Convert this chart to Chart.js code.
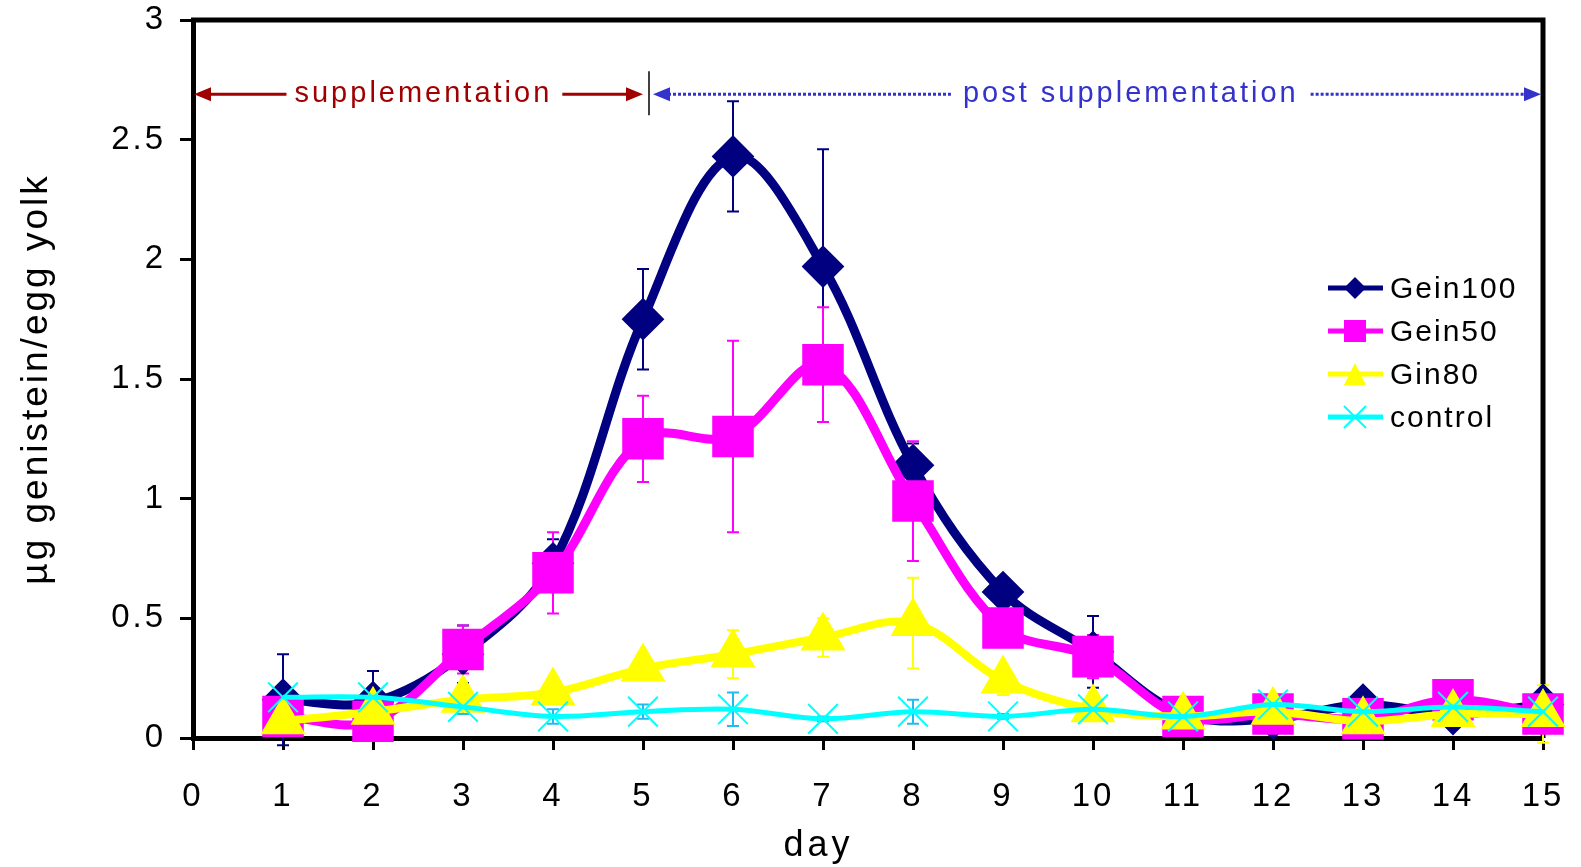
<!DOCTYPE html>
<html>
<head>
<meta charset="utf-8">
<script src="https://cdn.jsdelivr.net/npm/chart.js@4/dist/chart.umd.min.js"></script>
<style>
  html, body { margin: 0; padding: 0; background: #fff; }
</style>
</head>
<body>
<canvas id="yolk" width="1581" height="867"></canvas>
<script>
// data
const days = [1, 2, 3, 4, 5, 6, 7, 8, 9, 10, 11, 12, 13, 14, 15];

const gein100    = [0.16, 0.15, 0.35, 0.73, 1.75, 2.43, 1.97, 1.14, 0.61, 0.36, 0.10, 0.08, 0.14, 0.10, 0.14];
const gein100Err = [0.19, 0.13, 0.12, 0.10, 0.21, 0.23, 0.49, 0.09, 0.04, 0.15, 0.03, 0.03, 0.03, 0.03, 0.04];

const gein50     = [0.09, 0.07, 0.37, 0.69, 1.25, 1.26, 1.56, 0.99, 0.46, 0.34, 0.09, 0.10, 0.08, 0.16, 0.10];
const gein50Err  = [0.04, 0.03, 0.10, 0.17, 0.18, 0.40, 0.24, 0.25, 0.04, 0.09, 0.02, 0.03, 0.02, 0.03, 0.03];

const gin80      = [0.07, 0.11, 0.16, 0.19, 0.29, 0.35, 0.42, 0.48, 0.24, 0.12, 0.09, 0.11, 0.07, 0.10, 0.10];
const gin80Err   = [0.02, 0.02, 0.02, 0.02, 0.02, 0.10, 0.08, 0.19, 0.06, 0.02, 0.02, 0.02, 0.02, 0.02, 0.12];

const control    = [0.17, 0.17, 0.13, 0.09, 0.11, 0.12, 0.08, 0.11, 0.09, 0.12, 0.09, 0.14, 0.11, 0.13, 0.11];
const controlErr = [0.02, 0.02, 0.03, 0.03, 0.03, 0.07, 0.01, 0.05, 0.01, 0.01, 0.01, 0.04, 0.01, 0.01, 0.01];

const xTicks = [0, 1, 2, 3, 4, 5, 6, 7, 8, 9, 10, 11, 12, 13, 14, 15];
const yTicks = [0, 0.5, 1, 1.5, 2, 2.5, 3];

const FONT = "'Liberation Sans', Arial, sans-serif";

function pts(vals) {
  return days.map((d, i) => ({ x: d, y: vals[i] }));
}

// small marker drawer for the legend
function legendMark(ctx, style, x, y, s, color) {
  ctx.fillStyle = color;
  ctx.strokeStyle = color;
  ctx.beginPath();
  if (style === 'rectRot') {
    ctx.moveTo(x, y - s); ctx.lineTo(x + s, y); ctx.lineTo(x, y + s); ctx.lineTo(x - s, y);
    ctx.closePath(); ctx.fill();
  } else if (style === 'rect') {
    ctx.fillRect(x - s, y - s, 2 * s, 2 * s);
  } else if (style === 'triangle') {
    ctx.moveTo(x, y - s); ctx.lineTo(x + s, y + s); ctx.lineTo(x - s, y + s);
    ctx.closePath(); ctx.fill();
  } else {
    ctx.lineWidth = 2;
    ctx.moveTo(x - s, y - s); ctx.lineTo(x + s, y + s);
    ctx.moveTo(x + s, y - s); ctx.lineTo(x - s, y + s);
    ctx.stroke();
  }
}

function arrowHead(ctx, tipX, y, dir, color) {
  ctx.fillStyle = color;
  ctx.beginPath();
  ctx.moveTo(tipX, y);
  ctx.lineTo(tipX - dir * 17, y - 7);
  ctx.lineTo(tipX - dir * 17, y + 7);
  ctx.closePath();
  ctx.fill();
}

const extras = {
  id: 'extras',
  beforeDraw(chart) {
    chart.ctx.letterSpacing = '3px';
  },
  beforeDatasetsDraw(chart) {
    const { ctx, chartArea: a, scales: { x, y } } = chart;
    ctx.save();
    // top & right frame
    ctx.strokeStyle = '#000';
    ctx.lineWidth = 5;
    ctx.beginPath();
    ctx.moveTo(a.left - 2, a.top);
    ctx.lineTo(a.right, a.top);
    ctx.lineTo(a.right, a.bottom);
    ctx.stroke();
    // error bars
    chart.data.datasets.forEach(ds => {
      ctx.strokeStyle = ds.errColor;
      ctx.lineWidth = 2;
      ds.data.forEach((p, j) => {
        const e = ds.errors[j];
        const px = x.getPixelForValue(p.x);
        const t = y.getPixelForValue(p.y + e);
        const b = y.getPixelForValue(p.y - e);
        ctx.beginPath();
        ctx.moveTo(px, t); ctx.lineTo(px, b);
        ctx.moveTo(px - 6, t); ctx.lineTo(px + 6, t);
        ctx.moveTo(px - 6, b); ctx.lineTo(px + 6, b);
        ctx.stroke();
      });
    });
    ctx.restore();
  },
  afterDraw(chart) {
    const { ctx, scales: { x, y } } = chart;
    ctx.save();
    const yA = y.getPixelForValue(2.69);
    const x0 = x.getPixelForValue(0);
    const x5 = x.getPixelForValue(5);
    const x15 = x.getPixelForValue(15);

    ctx.font = '29px ' + FONT;
    ctx.letterSpacing = '3px';
    ctx.textAlign = 'center';
    ctx.textBaseline = 'middle';

    // supplementation
    const red = '#a00000';
    const rc = x.getPixelForValue(2.56);
    const rw = ctx.measureText('supplementation').width;
    ctx.fillStyle = red;
    ctx.fillText('supplementation', rc, yA);
    ctx.strokeStyle = red;
    ctx.lineWidth = 3;
    ctx.beginPath();
    ctx.moveTo(x0 + 10, yA); ctx.lineTo(rc - rw / 2 - 8, yA);
    ctx.moveTo(rc + rw / 2 + 10, yA); ctx.lineTo(x5 - 10, yA);
    ctx.stroke();
    arrowHead(ctx, x0 + 1, yA, -1, red);
    arrowHead(ctx, x5, yA, 1, red);

    // divider
    ctx.strokeStyle = '#000';
    ctx.lineWidth = 1.5;
    ctx.beginPath();
    ctx.moveTo(x5 + 6, yA - 23); ctx.lineTo(x5 + 6, yA + 21);
    ctx.stroke();

    // post supplementation
    const blue = '#3333cc';
    const bc = x.getPixelForValue(10.42);
    const bw = ctx.measureText('post supplementation').width;
    ctx.fillStyle = blue;
    ctx.fillText('post supplementation', bc, yA);
    ctx.strokeStyle = blue;
    ctx.lineWidth = 3;
    ctx.setLineDash([3, 2]);
    ctx.beginPath();
    ctx.moveTo(x5 + 20, yA); ctx.lineTo(bc - bw / 2 - 12, yA);
    ctx.moveTo(bc + bw / 2 + 12, yA); ctx.lineTo(x15 - 14, yA);
    ctx.stroke();
    ctx.setLineDash([]);
    arrowHead(ctx, x5 + 10, yA, -1, blue);
    arrowHead(ctx, x15 - 2, yA, 1, blue);

    // x title
    ctx.fillStyle = '#000';
    ctx.font = '36px ' + FONT;
    ctx.letterSpacing = '4px';
    ctx.fillText('day', x.getPixelForValue(6.95), 846);

    // legend
    ctx.font = '30px ' + FONT;
    ctx.letterSpacing = '2px';
    ctx.textAlign = 'left';
    chart.data.datasets.forEach((ds, i) => {
      const ry = 288 + i * 43;
      ctx.strokeStyle = ds.borderColor;
      ctx.lineWidth = 5;
      ctx.beginPath();
      ctx.moveTo(1328, ry); ctx.lineTo(1383, ry);
      ctx.stroke();
      legendMark(ctx, ds.pointStyle, 1355, ry, 11, ds.pointBackgroundColor);
      ctx.fillStyle = '#000';
      ctx.fillText(ds.label, 1390, ry + 2);
    });
    ctx.restore();
  }
};

new Chart(document.getElementById('yolk'), {
  type: 'line',
  data: {
    datasets: [
      { label: 'Gein100', data: pts(gein100), errors: gein100Err, errColor: '#000080',
        borderColor: '#000080', pointBackgroundColor: '#000080', pointBorderColor: '#000080',
        borderWidth: 9, pointStyle: 'rectRot', pointRadius: 15, order: 4 },
      { label: 'Gein50', data: pts(gein50), errors: gein50Err, errColor: '#ff00ff',
        borderColor: '#ff00ff', pointBackgroundColor: '#ff00ff', pointBorderColor: '#ff00ff',
        borderWidth: 9, pointStyle: 'rect', pointRadius: 23, order: 3 },
      { label: 'Gin80', data: pts(gin80), errors: gin80Err, errColor: '#ffff00',
        borderColor: '#ffff00', pointBackgroundColor: '#ffff00', pointBorderColor: '#ffff00',
        borderWidth: 8, pointStyle: 'triangle', pointRadius: 18, order: 2 },
      { label: 'control', data: pts(control), errors: controlErr, errColor: '#22bbee',
        borderColor: '#00ffff', pointBackgroundColor: '#00ffff', pointBorderColor: '#00ffff',
        borderWidth: 5, pointStyle: 'crossRot', pointRadius: 21, pointBorderWidth: 2, order: 1 }
    ]
  },
  options: {
    responsive: false,
    animation: false,
    events: [],
    layout: { autoPadding: false, padding: { top: 20, right: 38, left: 0, bottom: 0 } },
    elements: { line: { tension: 0.35 }, point: { borderWidth: 1 } },
    datasets: { line: { clip: false } },
    plugins: { legend: { display: false }, tooltip: { enabled: false } },
    scales: {
      x: {
        type: 'linear', min: 0, max: 15,
        afterFit: s => { s.height = 129; s.paddingLeft = 0; s.paddingRight = 0; },
        afterBuildTicks: s => { s.ticks = xTicks.map(v => ({ value: v })); },
        ticks: { color: '#000', font: { size: 33, family: FONT }, padding: 27, autoSkip: false, maxRotation: 0,
                 callback: v => String(v) },
        grid: { drawOnChartArea: false, drawTicks: true, tickLength: 12, tickWidth: 3, tickColor: '#000', color: '#000' },
        border: { display: true, color: '#000', width: 5 }
      },
      y: {
        type: 'linear', min: 0, max: 3,
        afterFit: s => { s.width = 193; s.paddingTop = 0; s.paddingBottom = 0; },
        afterBuildTicks: s => { s.ticks = yTicks.map(v => ({ value: v })); },
        ticks: { color: '#000', font: { size: 33, family: FONT }, padding: 14, callback: v => String(v) },
        grid: { drawOnChartArea: false, drawTicks: true, tickLength: 13, tickWidth: 3, tickColor: '#000', color: '#000' },
        border: { display: true, color: '#000', width: 5 },
        title: { display: true, text: 'µg genistein/egg yolk', color: '#000',
                 font: { size: 37, family: FONT }, padding: { top: 15, bottom: 0 } }
      }
    }
  },
  plugins: [extras]
});
</script>
</body>
</html>
